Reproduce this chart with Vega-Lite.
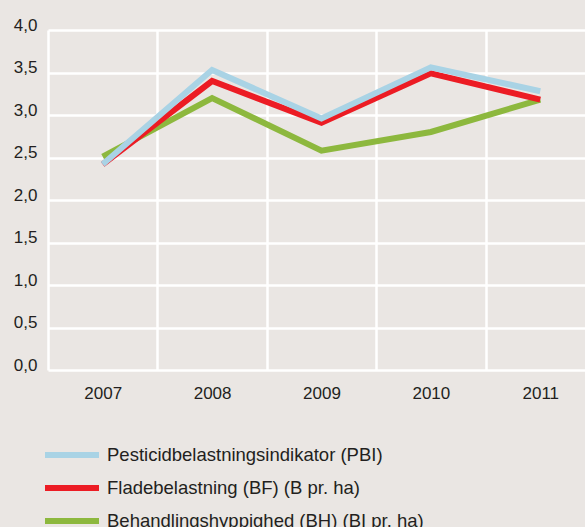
{
  "$schema": "https://vega.github.io/schema/vega-lite/v6.json",
  "autosize": "none",
  "width": 537,
  "height": 340,
  "padding": {"left": 48, "top": 30, "right": 0, "bottom": 157},
  "background": "#EAE6E3",
  "config": {
    "view": {"stroke": null, "fill": "#EAE6E3"},
    "font": "Liberation Sans",
    "axis": {"labelFont": "Liberation Sans", "labelColor": "#231F20", "labelFontSize": 17}
  },
  "data": {
    "values": [
      {"year": 2007, "serie": "Behandlingshyppighed (BH) (BI pr. ha)", "value": 2.51},
      {"year": 2008, "serie": "Behandlingshyppighed (BH) (BI pr. ha)", "value": 3.2},
      {"year": 2009, "serie": "Behandlingshyppighed (BH) (BI pr. ha)", "value": 2.58},
      {"year": 2010, "serie": "Behandlingshyppighed (BH) (BI pr. ha)", "value": 2.8},
      {"year": 2011, "serie": "Behandlingshyppighed (BH) (BI pr. ha)", "value": 3.18},
      {"year": 2007, "serie": "Fladebelastning (BF) (B pr. ha)", "value": 2.42},
      {"year": 2008, "serie": "Fladebelastning (BF) (B pr. ha)", "value": 3.4},
      {"year": 2009, "serie": "Fladebelastning (BF) (B pr. ha)", "value": 2.91},
      {"year": 2010, "serie": "Fladebelastning (BF) (B pr. ha)", "value": 3.49},
      {"year": 2011, "serie": "Fladebelastning (BF) (B pr. ha)", "value": 3.18},
      {"year": 2007, "serie": "Pesticidbelastningsindikator (PBI)", "value": 2.42},
      {"year": 2008, "serie": "Pesticidbelastningsindikator (PBI)", "value": 3.53},
      {"year": 2009, "serie": "Pesticidbelastningsindikator (PBI)", "value": 2.96},
      {"year": 2010, "serie": "Pesticidbelastningsindikator (PBI)", "value": 3.56},
      {"year": 2011, "serie": "Pesticidbelastningsindikator (PBI)", "value": 3.28}
    ]
  },
  "mark": {"type": "line", "strokeWidth": 6, "strokeCap": "butt", "strokeJoin": "miter"},
  "encoding": {
    "x": {
      "field": "year",
      "type": "quantitative",
      "scale": {"domain": [2006.5, 2011.409], "nice": false, "zero": false},
      "axis": {
        "values": [2006.5, 2007, 2007.5, 2008, 2008.5, 2009, 2009.5, 2010, 2010.5, 2011],
        "labelExpr": "datum.value % 1 === 0 ? toString(datum.value) : ''",
        "grid": true, "gridColor": "#FFFFFF", "gridWidth": 2.5,
        "gridOpacity": {"condition": {"test": "datum.value % 1 !== 0", "value": 1}, "value": 0},
        "ticks": false, "domain": false, "title": null, "labelPadding": 15, "labelFlush": false
      }
    },
    "y": {
      "field": "value",
      "type": "quantitative",
      "scale": {"domain": [0, 4], "nice": false},
      "axis": {
        "values": [0, 0.5, 1, 1.5, 2, 2.5, 3, 3.5, 4],
        "labelExpr": "replace(format(datum.value, '.1f'), '.', ',')",
        "grid": true, "gridColor": "#FFFFFF", "gridWidth": 2.5, "gridOpacity": 1,
        "ticks": false, "domain": false, "title": null,
        "labelPadding": 11, "labelBaseline": "alphabetic"
      }
    },
    "color": {
      "field": "serie",
      "type": "nominal",
      "scale": {
        "domain": ["Pesticidbelastningsindikator (PBI)", "Fladebelastning (BF) (B pr. ha)", "Behandlingshyppighed (BH) (BI pr. ha)"],
        "range": ["#A9D3E5", "#EC1C24", "#8DB83E"]
      },
      "legend": {
        "orient": "none",
        "legendX": 11,
        "legendY": 412,
        "title": null,
        "symbolType": "M-2.7,0H2.7",
        "symbolSize": 400,
        "symbolStrokeWidth": 6,
        "labelFontSize": 18.5,
        "labelFont": "Liberation Sans",
        "labelColor": "#231F20",
        "labelOffset": 22,
        "labelLimit": 500,
        "rowPadding": 8,
        "padding": 0
      }
    }
  }
}
